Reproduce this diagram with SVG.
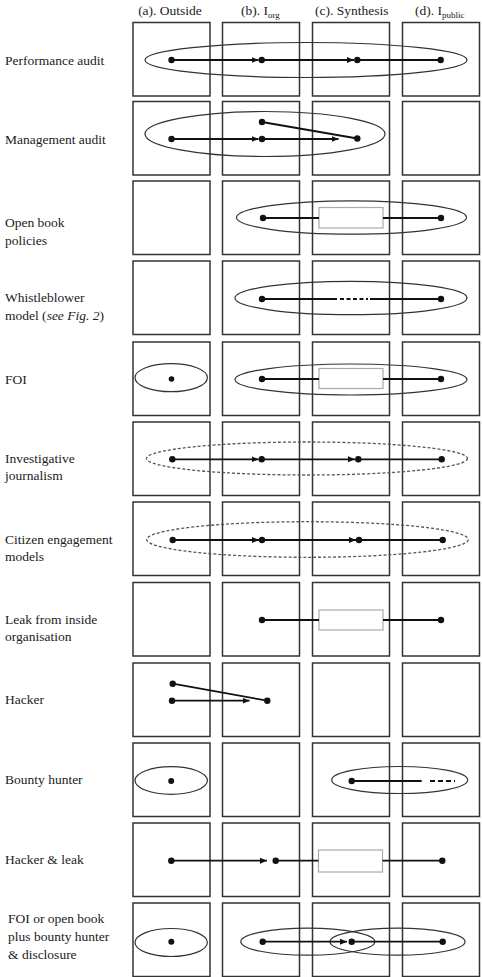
<svg xmlns="http://www.w3.org/2000/svg" width="482" height="977" viewBox="0 0 482 977">
<style>
text{font-family:"Liberation Serif","Times New Roman",serif;font-size:13.5px;fill:#222}
.box{fill:none;stroke:#333;stroke-width:1.5}
.ell{fill:none;stroke:#333;stroke-width:1.2}
.dell{fill:none;stroke:#555;stroke-width:1.3;stroke-dasharray:3 2}
.syn{fill:#fff;stroke:#aaa;stroke-width:1.2}
.ln{stroke:#111;stroke-width:1.8;fill:none}
.ar{marker-end:url(#ah)}
.dot{fill:#111}
</style>
<defs>
<marker id="ah" markerUnits="userSpaceOnUse" markerWidth="8" markerHeight="7" refX="7" refY="3" orient="auto">
<path d="M0,0 L7,3 L0,6 z" fill="#111"/>
</marker>
<g id="cells">
<rect class="box" x="133" y="0" width="77" height="73.5"/>
<rect class="box" x="222.5" y="0" width="77" height="73.5"/>
<rect class="box" x="312.5" y="0" width="77" height="73.5"/>
<rect class="box" x="402.5" y="0" width="77" height="73.5"/>
</g>
</defs>

<g id="headers">
<text x="170" y="15" text-anchor="middle">(a). Outside</text>
<text x="241" y="15">(b). I<tspan font-size="9" dy="3">org</tspan></text>
<text x="315" y="15">(c). Synthesis</text>
<text x="415" y="15">(d). I<tspan font-size="9" dy="3">public</tspan></text>
</g>

<g id="grid">
<use href="#cells" y="22.5"/>
<use href="#cells" y="101.5"/>
<use href="#cells" y="181"/>
<use href="#cells" y="261"/>
<use href="#cells" y="342"/>
<use href="#cells" y="422"/>
<use href="#cells" y="502"/>
<use href="#cells" y="582.5"/>
<use href="#cells" y="663"/>
<use href="#cells" y="743"/>
<use href="#cells" y="823"/>
<use href="#cells" y="903"/>
</g>

<g id="row1-performance-audit">
<text x="5" y="65">Performance audit</text>
<ellipse class="ell" cx="306" cy="60" rx="161" ry="17.5"/>
</g>
<g id="row2-management-audit">
<text x="5" y="144">Management audit</text>
<ellipse class="ell" cx="265" cy="134" rx="120" ry="22.5"/>
</g>
<g id="row3-open-book">
<text x="5" y="226.5">Open book</text>
<text x="5" y="244.5">policies</text>
<ellipse class="ell" cx="351.5" cy="217.5" rx="115" ry="16.7"/>
</g>
<g id="row4-whistleblower">
<text x="5" y="302">Whistleblower</text>
<text x="5" y="320">model (<tspan font-style="italic">see Fig. 2</tspan>)</text>
<ellipse class="ell" cx="351" cy="298" rx="116" ry="16.7"/>
</g>
<g id="row5-foi">
<text x="5" y="384">FOI</text>
<ellipse class="ell" cx="171.2" cy="377.7" rx="36.2" ry="14"/>
<ellipse class="ell" cx="351" cy="379.5" rx="116" ry="15.5"/>
</g>
<g id="row6-investigative">
<text x="5" y="463">Investigative</text>
<text x="5" y="479.5">journalism</text>
<ellipse class="dell" cx="307" cy="458.5" rx="160.5" ry="16.5"/>
</g>
<g id="row7-citizen">
<text x="5" y="543.5">Citizen engagement</text>
<text x="5" y="561">models</text>
<ellipse class="dell" cx="307.5" cy="539.5" rx="160.8" ry="17.8"/>
</g>
<g id="row8-leak">
<text x="5" y="623.5">Leak from inside</text>
<text x="5" y="641">organisation</text>
</g>
<g id="row9-hacker">
<text x="5" y="703.5">Hacker</text>
</g>
<g id="row10-bounty">
<text x="5" y="784">Bounty hunter</text>
<ellipse class="ell" cx="171.2" cy="780.5" rx="36.2" ry="13.8"/>
<ellipse class="ell" cx="399.7" cy="780" rx="68" ry="13.5"/>
</g>
<g id="row11-hacker-leak">
<text x="5" y="864">Hacker &amp; leak</text>
</g>
<g id="row12-foi-bounty">
<text x="8" y="923.3">FOI or open book</text>
<text x="8" y="941">plus bounty hunter</text>
<text x="8" y="958.7">&amp; disclosure</text>
<ellipse class="ell" cx="171.2" cy="942.5" rx="36.2" ry="14"/>
<ellipse class="ell" cx="307.8" cy="941.7" rx="67" ry="13.5"/>
<ellipse class="ell" cx="397.5" cy="941.7" rx="67.5" ry="13.5"/>
</g>

<g id="synthesis-boxes">
<rect class="syn" x="319" y="207.5" width="64" height="20.5"/>
<rect class="syn" x="319" y="368.5" width="64" height="20"/>
<rect class="syn" x="319" y="610" width="64" height="20"/>
<rect class="syn" x="318.5" y="850" width="64" height="22"/>
</g>

<g id="connectors">
<!-- row 1 -->
<line class="ln ar" x1="171.5" y1="60" x2="258.5" y2="60"/>
<line class="ln ar" x1="261.7" y1="60" x2="354" y2="60"/>
<line class="ln" x1="357.3" y1="60" x2="440.7" y2="60"/>
<!-- row 2 -->
<line class="ln ar" x1="171.5" y1="139" x2="258.5" y2="139"/>
<line class="ln ar" x1="262" y1="139" x2="338.5" y2="139"/>
<line class="ln" x1="262" y1="122" x2="357.3" y2="138.5"/>
<!-- row 3 -->
<line class="ln" x1="263" y1="218" x2="319" y2="218"/>
<line class="ln" x1="383" y1="218" x2="441" y2="218"/>
<!-- row 4 -->
<line class="ln" x1="262" y1="299" x2="337" y2="299"/>
<line class="ln" x1="340" y1="299" x2="368" y2="299" stroke-dasharray="4 2.5"/>
<line class="ln" x1="370" y1="299" x2="441" y2="299"/>
<!-- row 5 -->
<line class="ln" x1="262" y1="379" x2="319" y2="379"/>
<line class="ln" x1="383" y1="379" x2="441" y2="379"/>
<!-- row 6 -->
<line class="ln ar" x1="172.3" y1="459.3" x2="258.5" y2="459.3"/>
<line class="ln ar" x1="261.7" y1="459.3" x2="355" y2="459.3"/>
<line class="ln" x1="358.3" y1="459.3" x2="441.7" y2="459.3"/>
<!-- row 7 -->
<line class="ln ar" x1="172.7" y1="540" x2="259" y2="540"/>
<line class="ln ar" x1="262" y1="540" x2="356" y2="540"/>
<line class="ln" x1="359" y1="540" x2="442.7" y2="540"/>
<!-- row 8 -->
<line class="ln" x1="262" y1="620" x2="319" y2="620"/>
<line class="ln" x1="383" y1="620" x2="441" y2="620"/>
<!-- row 9 -->
<line class="ln ar" x1="172" y1="700.7" x2="249.5" y2="700.7"/>
<line class="ln" x1="172.7" y1="683.7" x2="267.3" y2="700.7"/>
<!-- row 10 -->
<line class="ln" x1="351.7" y1="781" x2="421.7" y2="781"/>
<line class="ln" x1="430" y1="781" x2="455" y2="781" stroke-dasharray="5 3"/>
<!-- row 11 -->
<line class="ln ar" x1="171.3" y1="860.7" x2="267" y2="860.7"/>
<line class="ln" x1="275.7" y1="860.7" x2="318.5" y2="860.7"/>
<line class="ln" x1="382.5" y1="860.7" x2="442.3" y2="860.7"/>
<!-- row 12 -->
<line class="ln ar" x1="262.7" y1="941.7" x2="347" y2="941.7"/>
<line class="ln" x1="351.7" y1="941.7" x2="442.7" y2="941.7"/>
</g>

<g id="dots">
<circle class="dot" cx="171.5" cy="60" r="3.2"/>
<circle class="dot" cx="261.7" cy="60" r="3.2"/>
<circle class="dot" cx="357.3" cy="60" r="3.2"/>
<circle class="dot" cx="440.7" cy="60" r="3.2"/>
<circle class="dot" cx="171.5" cy="139" r="3.2"/>
<circle class="dot" cx="262" cy="139" r="3.2"/>
<circle class="dot" cx="262" cy="122" r="3.2"/>
<circle class="dot" cx="357.3" cy="138.5" r="3.2"/>
<circle class="dot" cx="263" cy="218" r="3.2"/>
<circle class="dot" cx="441" cy="218" r="3.2"/>
<circle class="dot" cx="262" cy="299" r="3.2"/>
<circle class="dot" cx="441" cy="299" r="3.2"/>
<circle class="dot" cx="171.5" cy="379" r="2.8"/>
<circle class="dot" cx="262" cy="379" r="3.2"/>
<circle class="dot" cx="441" cy="379" r="3.2"/>
<circle class="dot" cx="172.3" cy="459.3" r="3.2"/>
<circle class="dot" cx="261.7" cy="459.3" r="3.2"/>
<circle class="dot" cx="358.3" cy="459.3" r="3.2"/>
<circle class="dot" cx="441.7" cy="459.3" r="3.2"/>
<circle class="dot" cx="172.7" cy="540" r="3.2"/>
<circle class="dot" cx="262" cy="540" r="3.2"/>
<circle class="dot" cx="359" cy="540" r="3.2"/>
<circle class="dot" cx="442.7" cy="540" r="3.2"/>
<circle class="dot" cx="262" cy="620" r="3.2"/>
<circle class="dot" cx="441" cy="620" r="3.2"/>
<circle class="dot" cx="172.7" cy="683.7" r="3.2"/>
<circle class="dot" cx="172" cy="700.7" r="3.2"/>
<circle class="dot" cx="267.3" cy="700.7" r="3.2"/>
<circle class="dot" cx="171.2" cy="781" r="3"/>
<circle class="dot" cx="351.7" cy="781" r="3.2"/>
<circle class="dot" cx="171.3" cy="860.7" r="3.2"/>
<circle class="dot" cx="275.7" cy="860.7" r="3.2"/>
<circle class="dot" cx="442.3" cy="860.7" r="3.2"/>
<circle class="dot" cx="171.3" cy="941.7" r="3"/>
<circle class="dot" cx="262.7" cy="941.7" r="3.2"/>
<circle class="dot" cx="351.7" cy="941.7" r="3.2"/>
<circle class="dot" cx="442.7" cy="941.7" r="3.2"/>
</g>
</svg>
